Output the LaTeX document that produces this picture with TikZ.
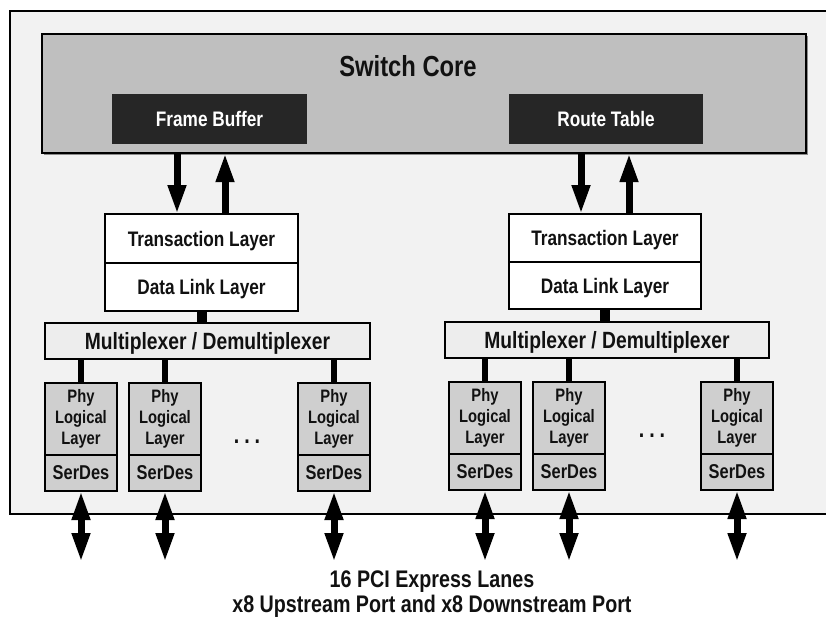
\documentclass[tikz,border=0pt]{standalone}
\usepackage{fontspec}
\setmainfont{Liberation Sans}[FakeStretch=0.82]
\usetikzlibrary{arrows.meta,shadows}
\definecolor{bgc}{HTML}{F2F2F2}
\definecolor{corec}{HTML}{BFBFBF}
\definecolor{darkc}{HTML}{262626}
\definecolor{muxc}{HTML}{EDEDED}
\definecolor{phyc}{HTML}{CFCFCF}
\definecolor{txtc}{HTML}{111111}
\begin{document}
\begin{tikzpicture}[x=1pt,y=-1pt,
  box/.style={draw=black, line width=2.5pt, inner sep=0pt, outer sep=0pt, text=txtc},
  layerbox/.style={box, fill=white, minimum width=193pt, minimum height=48pt, text depth=0pt, font=\bfseries\fontsize{21}{23}\selectfont},
  muxbox/.style={box, fill=muxc, minimum width=325pt, minimum height=36pt, text depth=0pt, font=\bfseries\fontsize{23.5}{25}\selectfont},
  phybox/.style={box, fill=phyc, minimum width=72pt, minimum height=72pt, align=center, font=\bfseries\fontsize{18}{21}\selectfont},
  serbox/.style={box, fill=phyc, minimum width=72pt, minimum height=36pt, text depth=0pt, font=\bfseries\fontsize{20}{22}\selectfont},
  darkbox/.style={fill=darkc, text=white, inner sep=0pt, outer sep=0pt, minimum height=50pt, text depth=0pt, font=\bfseries\fontsize{21}{23}\selectfont},
  tarr/.style={line width=7pt, -{Triangle[width=17pt,length=29pt]}},
  darr/.style={line width=7pt, {Triangle[width=17pt,length=29pt]}-{Triangle[width=17pt,length=29pt]}},
  link/.style={line width=6pt},
  fatlink/.style={line width=10pt},
  dotlabel/.style={inner sep=0pt, text=txtc, font=\bfseries\fontsize{24}{26}\selectfont}
]
\useasboundingbox (0,0) rectangle (826,619);
% outer frame
\fill[bgc] (9.5,10.5) rectangle (826,514);
\draw[line width=2pt] (826,10.5) -- (9.5,10.5) -- (9.5,514) -- (826,514);

% switch core
\node[box, fill=corec, minimum width=764pt, minimum height=119pt,
      drop shadow={shadow xshift=1.5pt, shadow yshift=-2pt, fill=black!45, opacity=1}] (core) at (424,93.7) {};
\node[inner sep=0pt, text=txtc, text depth=0pt, font=\bfseries\fontsize{29}{31}\selectfont] (corelabel) at (408,66) {Switch Core};
\node[darkbox, minimum width=195pt] (fb) at (209.5,119) {Frame Buffer};
\node[darkbox, minimum width=194pt] (rt) at (606,119) {Route Table};

% left port stack
\node[layerbox, minimum height=49pt] (tl) at (201.5,238.5) {Transaction Layer};
\node[layerbox] (dl) at (201.5,287) {Data Link Layer};
\node[muxbox] (muxL) at (207.5,341) {Multiplexer / Demultiplexer};
\foreach \n/\x in {1/81,2/165,3/334}{
  \node[phybox] (p\n) at (\x,419) {Phy\\Logical\\Layer};
  \node[serbox] (s\n) at (\x,473) {SerDes};
}
\node[dotlabel] (dotsL) at (247,442) {.\hspace{5pt}.\hspace{5pt}.};

% right port stack
\node[layerbox, minimum width=192pt] (tr) at (605,238) {Transaction Layer};
\node[layerbox, minimum width=192pt, minimum height=47pt] (dr) at (605,285.5) {Data Link Layer};
\node[muxbox, minimum width=324pt] (muxR) at (607,340) {Multiplexer / Demultiplexer};
\foreach \n/\x in {4/485,5/569,6/737}{
  \node[phybox] (p\n) at (\x,418) {Phy\\Logical\\Layer};
  \node[serbox] (s\n) at (\x,472) {SerDes};
}
\node[dotlabel] (dotsR) at (652,436) {.\hspace{5pt}.\hspace{5pt}.};

% core <-> transaction arrows
\path (tl.north) ++(-24.5,0) coordinate (aL1);
\path (tl.north) ++(23.5,0) coordinate (aL2);
\path (tr.north) ++(-24,0) coordinate (aR1);
\path (tr.north) ++(24,0) coordinate (aR2);
\draw[tarr] (aL1 |- core.south) -- (aL1);
\draw[tarr] (aL2) -- (aL2 |- core.south);
\draw[tarr] (aR1 |- core.south) -- (aR1);
\draw[tarr] (aR2) -- (aR2 |- core.south);

% data link -> mux
\draw[fatlink] (dl.south) -- (dl.south |- muxL.north);
\draw[fatlink] (dr.south) -- (dr.south |- muxR.north);

% mux -> phy
\foreach \n in {1,2,3}{ \draw[link] (p\n.north |- muxL.south) -- (p\n.north); }
\foreach \n in {4,5,6}{ \draw[link] (p\n.north |- muxR.south) -- (p\n.north); }

% lanes
\foreach \n/\x in {1/81,2/165,3/334,4/485,5/569,6/737}{
  \coordinate (e\n) at (\x,562);
  \draw[darr] (s\n.south) -- (e\n);
}

\node[inner sep=0pt, align=center, text=txtc, font=\bfseries\fontsize{24}{25}\selectfont] (lanes) at (432,594) {16 PCI Express Lanes\\x8 Upstream Port and x8 Downstream Port};
\end{tikzpicture}
\end{document}
